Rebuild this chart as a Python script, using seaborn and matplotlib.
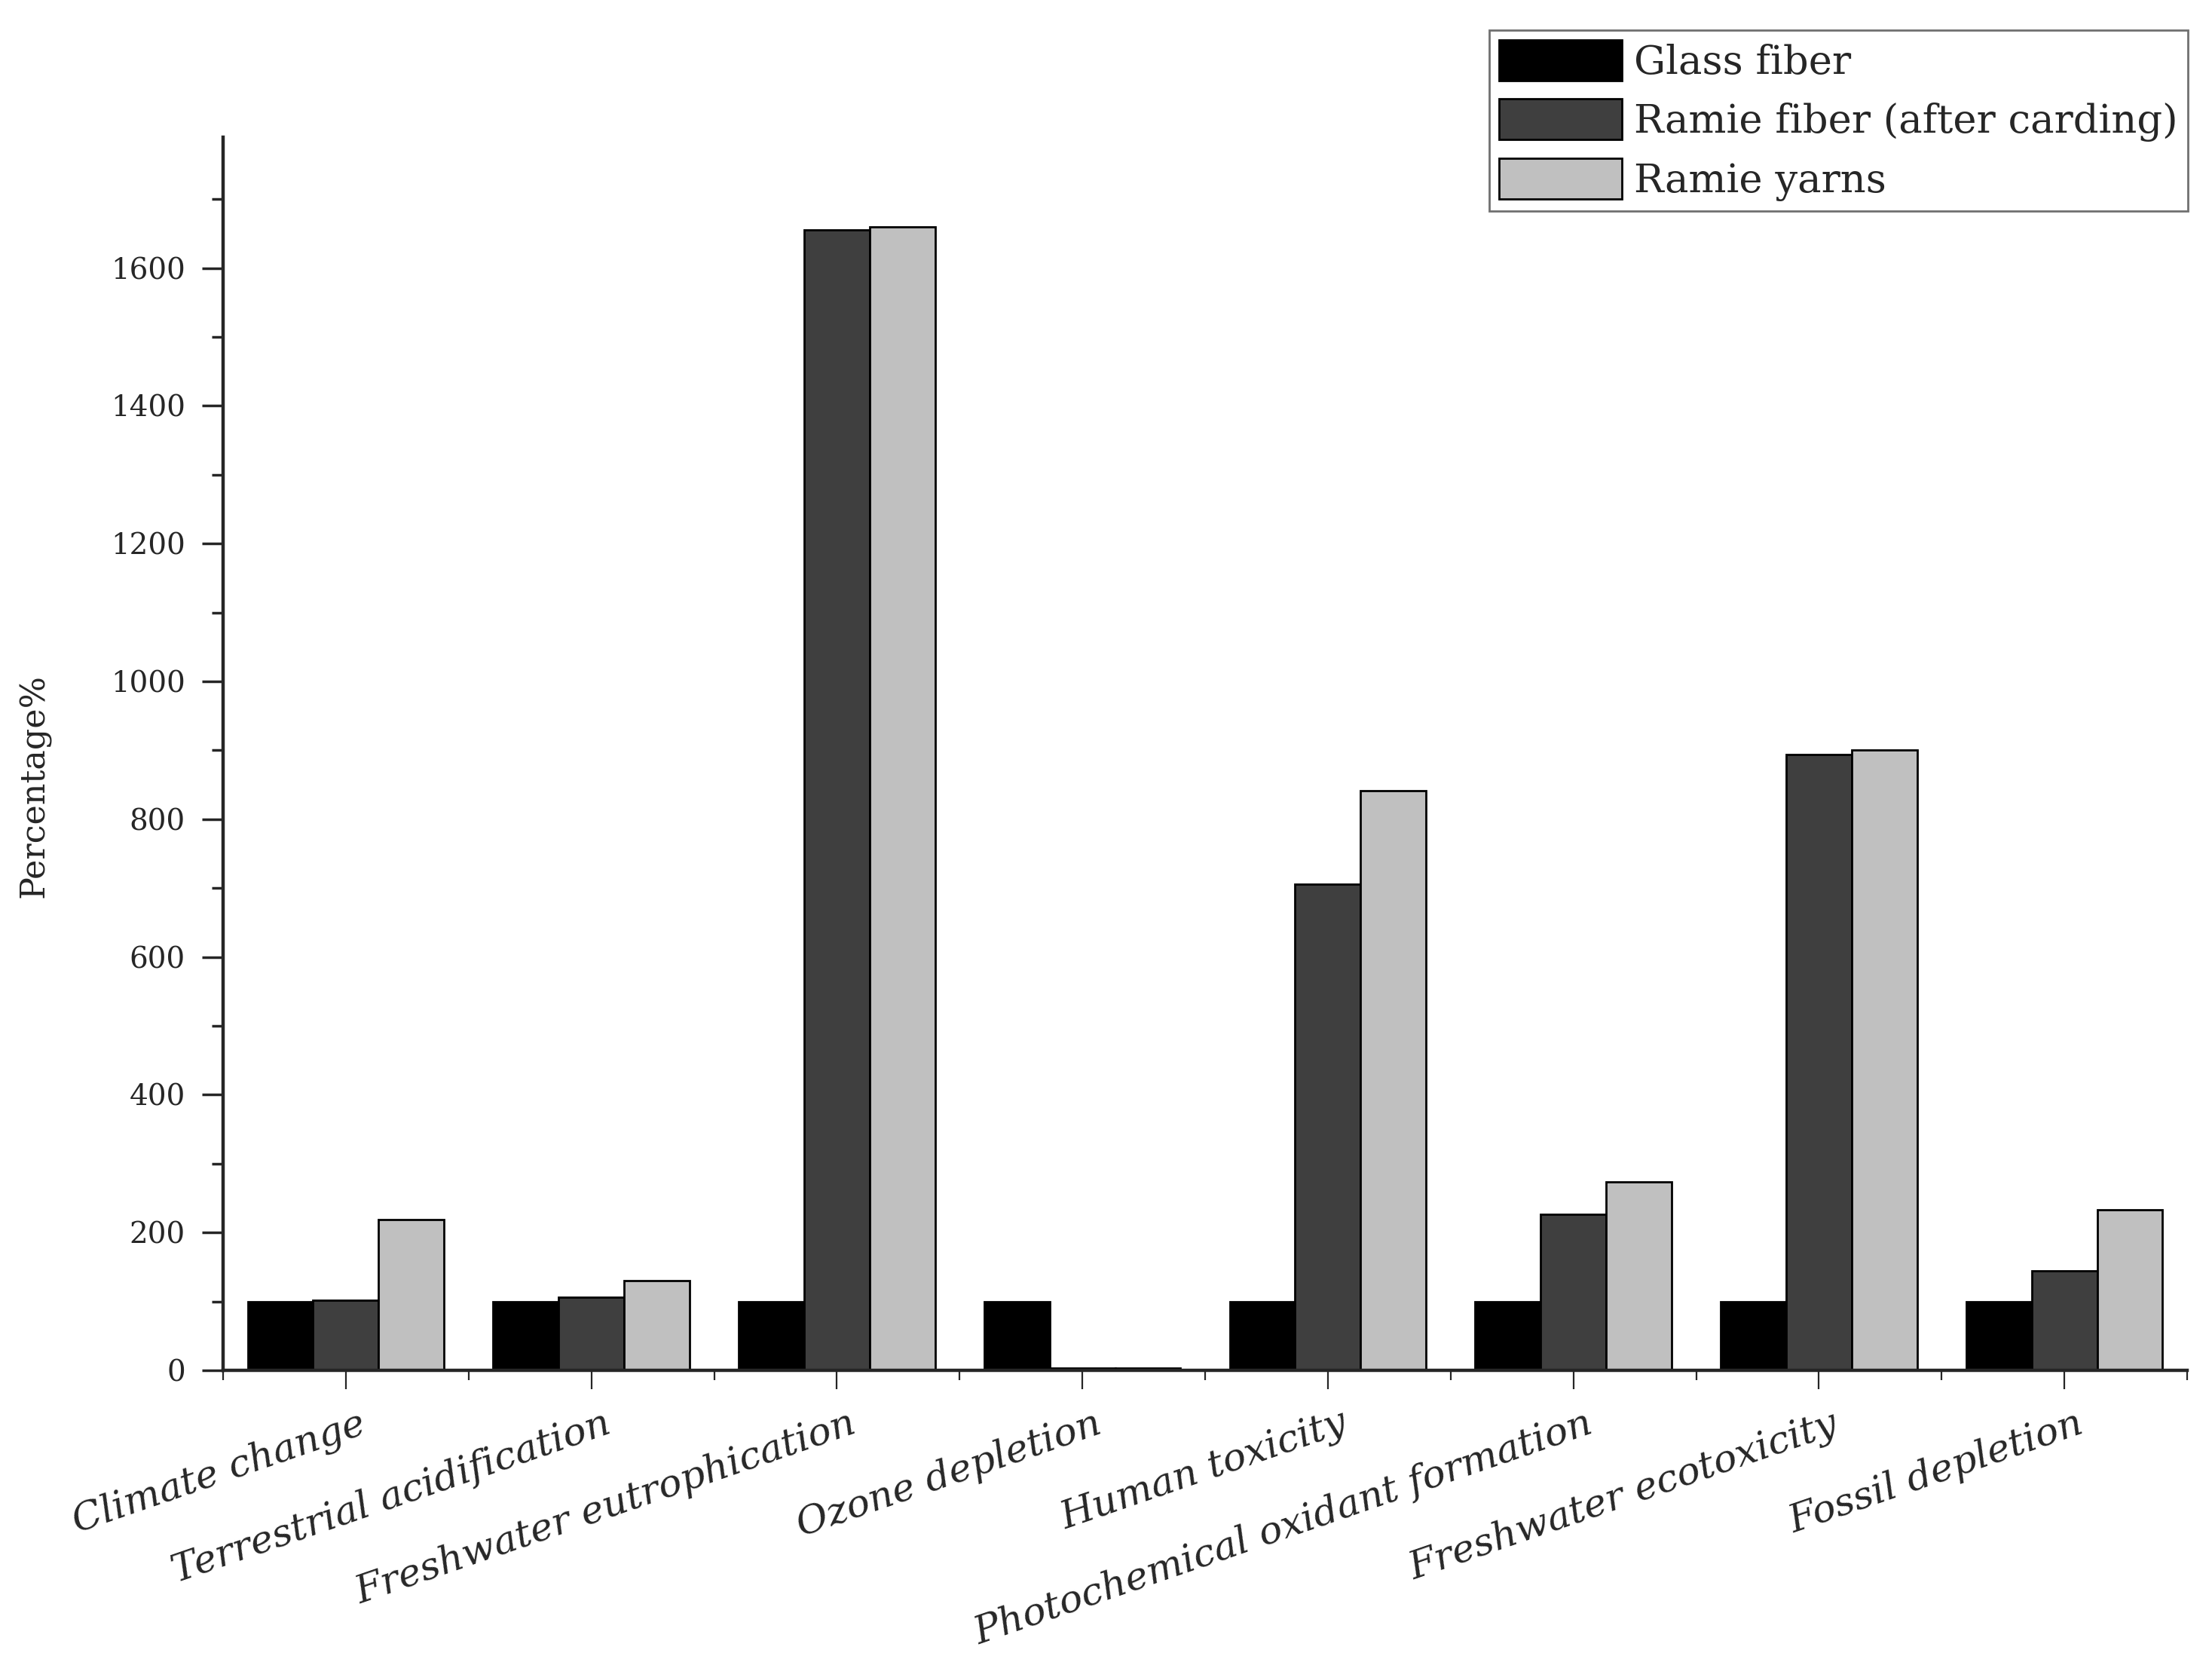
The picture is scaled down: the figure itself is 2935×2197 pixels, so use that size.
import matplotlib
matplotlib.use("Agg")
import matplotlib.pyplot as plt
import matplotlib.transforms as mtransforms
from matplotlib.ticker import MultipleLocator, FixedLocator
import pandas as pd
import seaborn as sns

categories = ["Climate change", "Terrestrial acidification", "Freshwater eutrophication",
              "Ozone depletion", "Human toxicity", "Photochemical oxidant formation",
              "Freshwater ecotoxicity", "Fossil depletion"]
materials = ["Glass fiber", "Ramie fiber (after carding)", "Ramie yarns"]
glass_fiber = [100, 100, 100, 100, 100, 100, 100, 100]
ramie_fiber = [102, 106, 1655, 3, 706, 226, 894, 144]
ramie_yarns = [219, 130, 1660, 3, 841, 274, 900, 233]
colors = ["#000000", "#3f3f3f", "#c0c0c0"]

rows = []
for name, vals in zip(materials, [glass_fiber, ramie_fiber, ramie_yarns]):
    for cat, v in zip(categories, vals):
        rows.append({"Category": cat, "Value": v, "Material": name})
df = pd.DataFrame(rows)

sns.set_style("ticks")
plt.rcParams["font.family"] = ["DejaVu Serif"]

fig = plt.figure(figsize=(29.35, 21.97), dpi=100)
ax = fig.add_axes([296 / 2935, 1 - 1818 / 2197, (2902 - 296) / 2935, (1818 - 182) / 2197])

sns.barplot(data=df, x="Category", y="Value", hue="Material", hue_order=materials,
            order=categories, palette=colors, edgecolor="black", linewidth=2,
            width=0.8, ax=ax)

ax.set_xlim(-0.5, 7.5)
ax.set_ylim(0, 1790)

# spines
sns.despine(ax=ax)
ax.spines["left"].set_linewidth(3.2)
ax.spines["bottom"].set_linewidth(3.2)

# y ticks
ax.yaxis.set_major_locator(FixedLocator(range(0, 1700, 200)))
ax.yaxis.set_minor_locator(MultipleLocator(100))
ax.tick_params(axis="y", which="major", length=20, width=2.5, pad=16, labelsize=28)
ax.tick_params(axis="y", which="minor", length=11, width=2.5)

# x ticks: majors at the categories, minors at the group boundaries
ax.xaxis.set_minor_locator(FixedLocator([i - 0.5 for i in range(9)]))
ax.tick_params(axis="x", which="major", length=18, width=1.6, pad=15)
ax.tick_params(axis="x", which="minor", length=9.5, width=1.6)
ax.set_xticks(range(len(categories)))
ax.set_xticklabels(categories, rotation=19, ha="right", va="top",
                   rotation_mode="anchor", fontsize=37, fontstyle="italic")
shift = mtransforms.ScaledTranslation(0.16, 0, fig.dpi_scale_trans)
for lab in ax.get_xticklabels():
    lab.set_transform(lab.get_transform() + shift)

ax.set_xlabel("")
ax.set_ylabel("Percentage%", fontsize=32)
ax.yaxis.set_label_coords(-0.0876, 0.474)

leg = ax.legend(loc="upper right", bbox_to_anchor=(2903 / 2935, 1 - 40 / 2197),
                bbox_transform=fig.transFigure, fontsize=38, frameon=True,
                fancybox=False, edgecolor="#707070", framealpha=1,
                handlelength=3.1, handleheight=1.2, labelspacing=0.42,
                handletextpad=0.3, borderpad=0.25, borderaxespad=0)
leg.get_frame().set_linewidth(2)
for h in leg.legend_handles:
    h.set_edgecolor("black")
    h.set_linewidth(2)

fig.savefig("out.png", dpi=100)
